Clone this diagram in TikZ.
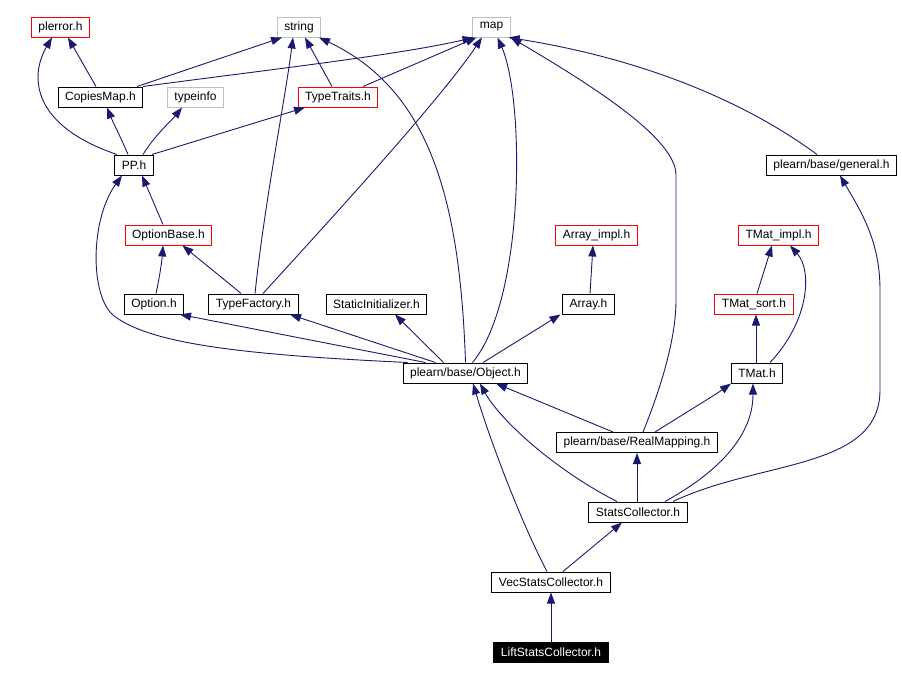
\documentclass[tikz,border=0pt]{standalone}
\usepackage{fontspec}
\setmainfont{Liberation Sans}
\usetikzlibrary{arrows.meta}
\definecolor{incblue}{HTML}{191970}
\definecolor{hdrred}{HTML}{FF0000}
\definecolor{sysgray}{HTML}{BFBFBF}

\begin{document}
\begin{tikzpicture}[x=1pt,y=-1pt,
  hfile/.style={draw=black,line width=1pt,fill=white,minimum height=20pt,
    inner xsep=7pt,inner ysep=0pt,font=\fontsize{12}{14}\selectfont},
  redfile/.style={hfile,draw=hdrred},
  sysfile/.style={hfile,draw=sysgray},
  topfile/.style={hfile,fill=black,text=white},
  inc/.style={draw=incblue,line width=.9pt,-{Triangle[length=11pt,width=8pt]}}]
  \useasboundingbox (0,0) rectangle (902,678);

  % top row
  \node[redfile] (plerror)  at (60.5,27)  {plerror.h};
  \node[sysfile] (string)   at (299,27)   {string};
  \node[sysfile] (map)      at (491.5,27) {map};
  \node[hfile]   (copies)   at (100.5,97) {CopiesMap.h};
  \node[sysfile] (typeinfo) at (195.5,97) {typeinfo};
  \node[redfile] (traits)   at (338,97)   {TypeTraits.h};
  \node[hfile]   (pp)       at (134,165)  {PP.h};
  \node[hfile]   (general)  at (831.5,165) {plearn/base/general.h};
  \node[redfile] (optbase)  at (168.5,235) {OptionBase.h};
  \node[redfile] (arrimpl)  at (596.5,235) {Array\_impl.h};
  \node[redfile] (tmatimpl) at (778.5,235) {TMat\_impl.h};
  \node[hfile]   (option)   at (154,304)  {Option.h};
  \node[hfile]   (factory)  at (253.5,304) {TypeFactory.h};
  \node[hfile]   (static)   at (376.5,304) {StaticInitializer.h};
  \node[hfile]   (array)    at (588.5,304) {Array.h};
  \node[redfile] (tmatsort) at (754,304)  {TMat\_sort.h};
  \node[hfile]   (object)   at (465.5,373) {plearn/base/Object.h};
  \node[hfile]   (tmat)     at (757,373)  {TMat.h};
  \node[hfile]   (realmap)  at (637,442.5) {plearn/base/RealMapping.h};
  \node[hfile]   (stats)    at (638,512)  {StatsCollector.h};
  \node[hfile]   (vecstats) at (551,582)  {VecStatsCollector.h};
  \node[topfile] (lift)     at (551,652)  {LiftStatsCollector.h};

  % includes
  \draw[inc] ([xshift=-4.5pt]copies.north) -- ([xshift=7.5pt]plerror.south);
  \draw[inc] ([xshift=36.5pt]copies.north) -- ([xshift=-17pt]string.south);
  \draw[inc] ([xshift=42.5pt]copies.north) .. controls (250,72) and (400,55) .. ([xshift=-18pt]map.south);
  \draw[inc] ([xshift=-17pt]pp.north) .. controls (30,125) and (30,75) .. ([xshift=-8.5pt]plerror.south);
  \draw[inc] ([xshift=-6pt]pp.north) .. controls (122,140) and (112,120) .. ([xshift=6.5pt]copies.south);
  \draw[inc] ([xshift=9pt]pp.north) .. controls (155,135) and (172,120) .. ([xshift=-13.5pt]typeinfo.south);
  \draw[inc] ([xshift=18pt]pp.north) -- ([xshift=-33pt]traits.south);
  \draw[inc] ([xshift=-6pt]traits.north) -- ([xshift=6pt]string.south);
  \draw[inc] ([xshift=25pt]traits.north) -- ([xshift=-15pt]map.south);
  \draw[inc] ([xshift=-5.5pt]optbase.north) -- ([xshift=8pt]pp.south);
  \draw[inc] ([xshift=2pt]option.north) .. controls (160,275) and (162,260) .. ([xshift=-5.5pt]optbase.south);
  \draw[inc] ([xshift=-12.5pt]factory.north) .. controls (225,280) and (200,260) .. ([xshift=14pt]optbase.south);
  \draw[inc] ([xshift=1.5pt]factory.north) .. controls (265,200) and (285,100) .. ([xshift=-6pt]string.south);
  \draw[inc] ([xshift=9.5pt]factory.north) .. controls (330,220) and (440,100) .. ([xshift=-9.5pt]map.south);
  \draw[inc] ([xshift=5pt]object.north west) .. controls (250,355) and (150,345) .. (113,315)
                                 .. controls (90,295) and (90,220) .. ([xshift=-12pt]pp.south);
  \draw[inc] ([xshift=-40pt]object.north) -- ([xshift=26pt]option.south);
  \draw[inc] ([xshift=-30pt]object.north) -- ([xshift=36.5pt]factory.south);
  \draw[inc] ([xshift=-22pt]object.north) -- ([xshift=18.5pt]static.south);
  \draw[inc] ([xshift=17.5pt]object.north) -- ([xshift=-28pt]array.south);
  \draw[inc] (object.north) .. controls (460,200) and (430,90) .. ([xshift=20pt]string.south);
  \draw[inc] ([xshift=7pt]object.north) .. controls (525,300) and (525,100) .. ([xshift=6pt]map.south);
  \draw[inc] ([xshift=1.5pt]array.north) -- ([xshift=-3.5pt]arrimpl.south);
  \draw[inc] ([xshift=3pt]tmatsort.north) -- ([xshift=-6.5pt]tmatimpl.south);
  \draw[inc] ([xshift=-1pt]tmat.north) -- ([xshift=2pt]tmatsort.south);
  \draw[inc] ([xshift=13pt]tmat.north) .. controls (810,320) and (812,270) .. ([xshift=11.5pt]tmatimpl.south);
  \draw[inc] ([xshift=-24pt]realmap.north) -- ([xshift=30.5pt]object.south);
  \draw[inc] ([xshift=18pt]realmap.north) .. controls (690,410) and (715,395) .. ([xshift=-26pt]tmat.south);
  \draw[inc] ([xshift=6pt]realmap.north) .. controls (660,390) and (676,340) .. (676,300) -- (676,175)
                                 .. controls (676,140) and (600,90) .. (map.south east);
  \draw[inc] ([xshift=-21pt]stats.north) .. controls (555,470) and (500,420) .. ([xshift=14.5pt]object.south);
  \draw[inc] ([xshift=-1pt]stats.north) -- (realmap.south);
  \draw[inc] ([xshift=27pt]stats.north) .. controls (740,460) and (753,420) .. ([xshift=-4pt]tmat.south);
  \draw[inc] ([xshift=35pt]stats.north) .. controls (760,460) and (880,470) .. (880,390) -- (880,290)
                                 .. controls (880,240) and (860,210) .. ([xshift=8.5pt]general.south);
  \draw[inc] ([xshift=-14.5pt]general.north) .. controls (750,105) and (650,60) .. ([xshift=-2pt]map.south east);
  \draw[inc] ([xshift=12pt]vecstats.north) -- ([xshift=-16pt]stats.south);
  \draw[inc] ([xshift=-4pt]vecstats.north) .. controls (520,520) and (490,440) .. ([xshift=7.5pt]object.south);
  \draw[inc] (lift) -- (vecstats);
\end{tikzpicture}
\end{document}
